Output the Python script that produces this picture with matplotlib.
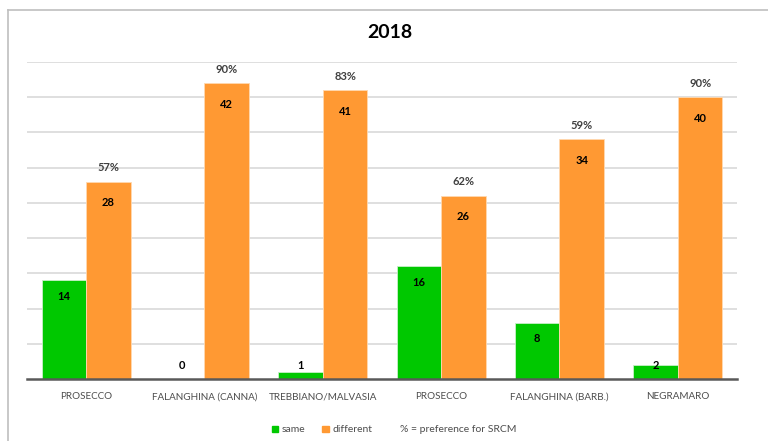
import matplotlib.pyplot as plt
import numpy as np
from matplotlib.patches import Patch
from matplotlib.lines import Line2D

plt.rcParams['font.family'] = ['Lato', 'DejaVu Sans']

wines = ['PROSECCO', 'FALANGHINA (CANNA)', 'TREBBIANO/MALVASIA',
         'PROSECCO', 'FALANGHINA (BARB.)', 'NEGRAMARO']
same = [14, 0, 1, 16, 8, 2]
different = [28, 42, 41, 26, 34, 40]
pref_srcm = [57, 90, 83, 62, 59, 90]

green = '#00c800'
orange = '#ff9933'

fig = plt.figure(figsize=(7.68, 4.41), dpi=100)
ax = fig.add_axes([27 / 768, 1 - 379 / 441, 710 / 768, 317 / 441])

x = np.arange(len(wines))
w = 0.376
ax.bar(x - w / 2, same, w, color=green, edgecolor='#c8f0c8', linewidth=0.6, zorder=3)
ax.bar(x + w / 2, different, w, color=orange, edgecolor='#ffd9b0', linewidth=0.6, zorder=3)

ax.set_xlim(-0.5, len(wines) - 0.5)
ax.set_ylim(0, 45)
ax.set_yticks(np.arange(5, 46, 5))
ax.yaxis.grid(True, color='#d9d9d9', linewidth=1.2)
ax.set_axisbelow(True)
ax.tick_params(axis='y', left=False, labelleft=False)
ax.tick_params(axis='x', bottom=False, pad=6, labelsize=7.1, labelcolor='#4d4d4d')
ax.set_xticks(x)
ax.set_xticklabels(wines)
for s in ['top', 'right', 'left']:
    ax.spines[s].set_visible(False)
ax.spines['bottom'].set_color('#595959')
ax.spines['bottom'].set_linewidth(1.8)
ax.spines['bottom'].set_zorder(4)

# value labels: inside the bar near the top, or just above when the bar is short
for i in range(len(wines)):
    v = same[i]
    y = v - 2.3 if v >= 5 else 1.9
    ax.text(x[i] - w / 2, y, str(v), ha='center', va='center',
            fontsize=8, fontweight='bold', color='black', zorder=5)
    d = different[i]
    ax.text(x[i] + w / 2, d - 3.0, str(d), ha='center', va='center',
            fontsize=8, fontweight='bold', color='black', zorder=5)
    ax.text(x[i] + w / 2, d + 2.0, f'{pref_srcm[i]}%', ha='center', va='center',
            fontsize=8, fontweight='bold', color='#404040', zorder=5)

fig.text(390 / 768, 1 - 33 / 441, '2018', ha='center', va='center',
         fontsize=14, fontweight='bold', color='black')

# chart frame (top and left edges)
fig.add_artist(Line2D([7.5 / 768, 1], [1 - 9.5 / 441] * 2, color='#bfbfbf', linewidth=1.2))
fig.add_artist(Line2D([7.5 / 768] * 2, [0, 1 - 9.5 / 441], color='#bfbfbf', linewidth=1.2))

handles = [Patch(color=green, label='same'),
           Patch(color=orange, label='different'),
           Patch(color='none', label='% = preference for SRCM')]
fig.legend(handles=handles, loc='center', bbox_to_anchor=(394 / 768, 1 - 430 / 441),
           ncol=3, frameon=False, fontsize=7.5, labelcolor='#4d4d4d',
           handlelength=0.6, handleheight=0.6, handletextpad=0.4, columnspacing=1.6)

fig.savefig('out.png', dpi=100)
